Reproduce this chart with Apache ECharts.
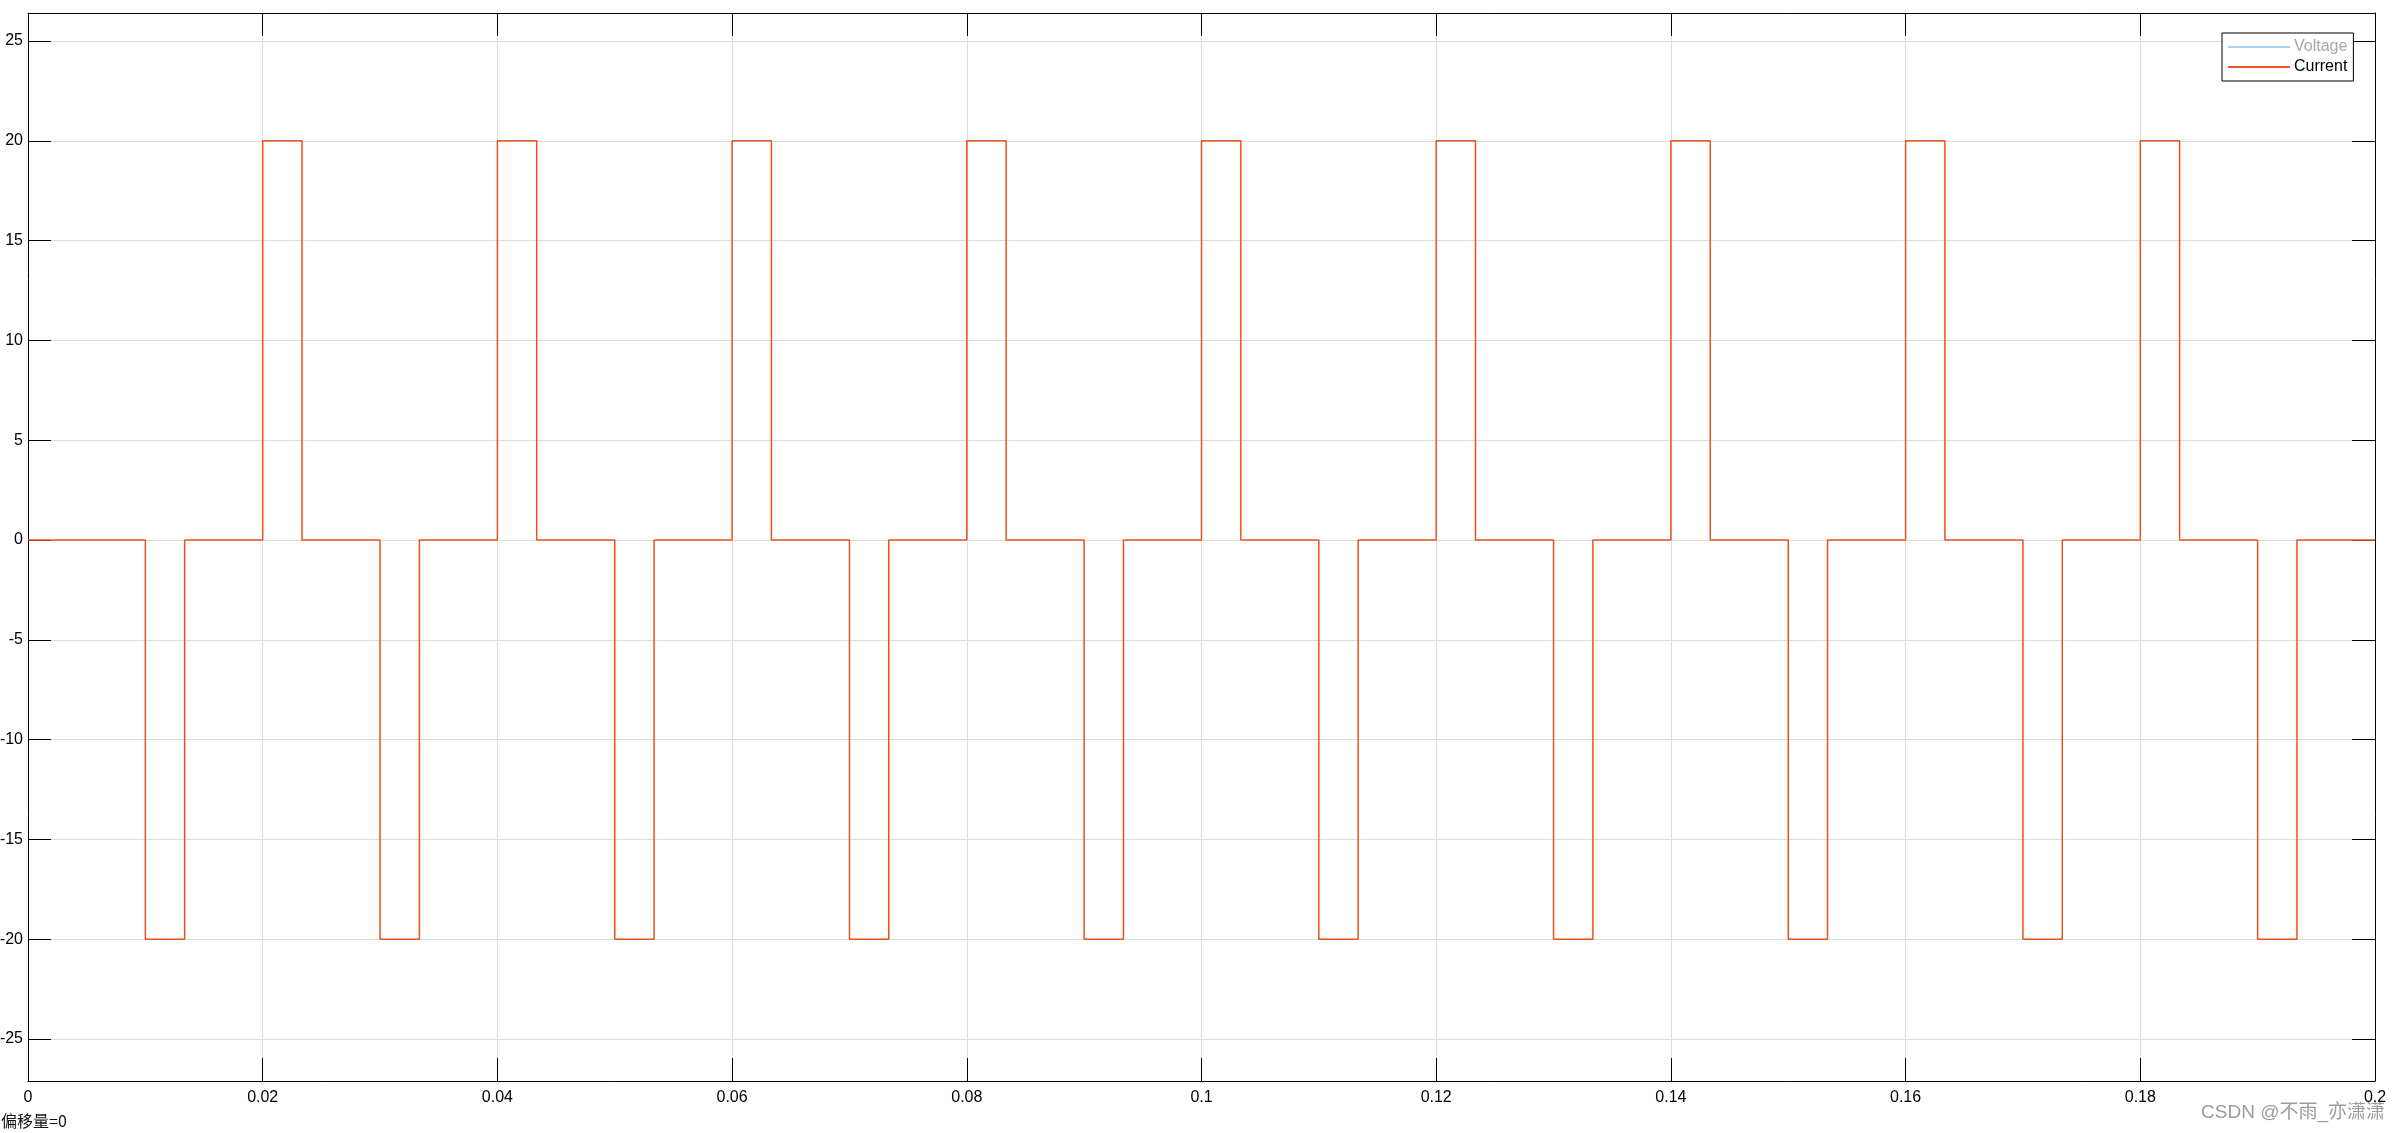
<!DOCTYPE html>
<html>
<head>
<meta charset="utf-8">
<title>Scope</title>
<script src="https://cdn.jsdelivr.net/npm/echarts@6/dist/echarts.min.js"></script>
<style>
  html, body { margin: 0; padding: 0; background: #fff; }
  #chart { width: 2400px; height: 1133px; }
</style>
</head>
<body>
<div id="chart"></div>
<script>
// switching instants (s) and the level held from each instant on
const times = [0, 0.01, 0.01335, 0.02, 0.02335, 0.03, 0.03335, 0.04, 0.04335,
  0.05, 0.05335, 0.06, 0.06335, 0.07, 0.07335, 0.08, 0.08335, 0.09, 0.09335,
  0.1, 0.10335, 0.11, 0.11335, 0.12, 0.12335, 0.13, 0.13335, 0.14, 0.14335,
  0.15, 0.15335, 0.16, 0.16335, 0.17, 0.17335, 0.18, 0.18335, 0.19, 0.19335, 0.2];
const current = [0, -20, 0, 20, 0, -20, 0, 20, 0,
  -20, 0, 20, 0, -20, 0, 20, 0, -20, 0,
  20, 0, -20, 0, 20, 0, -20, 0, 20, 0,
  -20, 0, 20, 0, -20, 0, 20, 0, -20, 0, 0];
const voltage = []; // voltage trace is switched off in the scope
const legendNames = ["Voltage", "Current"];

const font = "'Liberation Sans', Arial, sans-serif";
const chart = echarts.init(document.getElementById("chart"));

const tickStyle = { inside: true, length: 23, lineStyle: { color: "#000", width: 1 } };
const lineStyle = { show: true, onZero: false, lineStyle: { color: "#000", width: 1 } };
const gridLine = { show: true, lineStyle: { color: "#dcdcdc", width: 1 } };

chart.setOption({
  animation: false,
  backgroundColor: "#fff",
  grid: { left: 28, right: 25, top: 13, bottom: 52, containLabel: false, outerBoundsMode: "none" },
  legend: {
    data: [
      { name: legendNames[0], textStyle: { color: "#a6a6a6" } },
      { name: legendNames[1], textStyle: { color: "#000" } }
    ],
    orient: "vertical",
    left: 2222,
    top: 33,
    padding: [6, 6, 6, 5],
    itemWidth: 62,
    itemHeight: 14,
    itemGap: 4,
    itemStyle: { opacity: 0 },
    borderColor: "#000",
    borderWidth: 1,
    backgroundColor: "#fff",
    selectedMode: false,
    textStyle: { fontFamily: font, fontSize: 16, padding: [0, 0, 0, -1] }
  },
  xAxis: [
    {
      type: "value",
      min: 0,
      max: 0.2,
      interval: 0.02,
      axisLine: lineStyle,
      axisTick: tickStyle,
      splitLine: gridLine,
      axisLabel: {
        color: "#000",
        fontFamily: font,
        fontSize: 16,
        margin: 9,
        formatter: v => String(parseFloat(v.toFixed(2)))
      }
    },
    {
      type: "value",
      position: "top",
      min: 0,
      max: 0.2,
      interval: 0.02,
      axisLine: lineStyle,
      axisTick: tickStyle,
      splitLine: { show: false },
      axisLabel: { show: false }
    }
  ],
  yAxis: [
    {
      type: "value",
      min: -27.1,
      max: 26.4,
      splitNumber: 10,
      minInterval: 5,
      maxInterval: 5,
      axisLine: lineStyle,
      axisTick: tickStyle,
      splitLine: gridLine,
      axisLabel: {
        color: "#000",
        fontFamily: font,
        fontSize: 16,
        margin: 5,
        showMinLabel: false,
        showMaxLabel: false
      }
    },
    {
      type: "value",
      position: "right",
      min: -27.1,
      max: 26.4,
      splitNumber: 10,
      minInterval: 5,
      maxInterval: 5,
      axisLine: lineStyle,
      axisTick: tickStyle,
      splitLine: { show: false },
      axisLabel: { show: false }
    }
  ],
  series: [
    {
      name: legendNames[0],
      type: "line",
      step: "end",
      symbol: "none",
      data: voltage,
      lineStyle: { color: "#a9d0ee", width: 1.5 },
      itemStyle: { color: "#a9d0ee" }
    },
    {
      name: legendNames[1],
      type: "line",
      step: "end",
      symbol: "none",
      data: times.map((t, i) => [t, current[i]]),
      lineStyle: { color: "#e8531f", width: 1.5 },
      itemStyle: { color: "#e8531f" }
    }
  ],
  graphic: [
    {
      type: "text",
      left: 1,
      top: 1113,
      style: { text: "偏移量=0", fontFamily: "'Noto Sans CJK SC', sans-serif", fontSize: 16, fill: "#111" }
    },
    {
      type: "text",
      right: 15,
      top: 1103,
      style: { text: "CSDN @不雨_亦潇潇", fontFamily: "'Liberation Sans', 'Noto Sans CJK SC', sans-serif", fontSize: 19, fill: "#9c9c9c" }
    }
  ]
});
</script>
</body>
</html>
